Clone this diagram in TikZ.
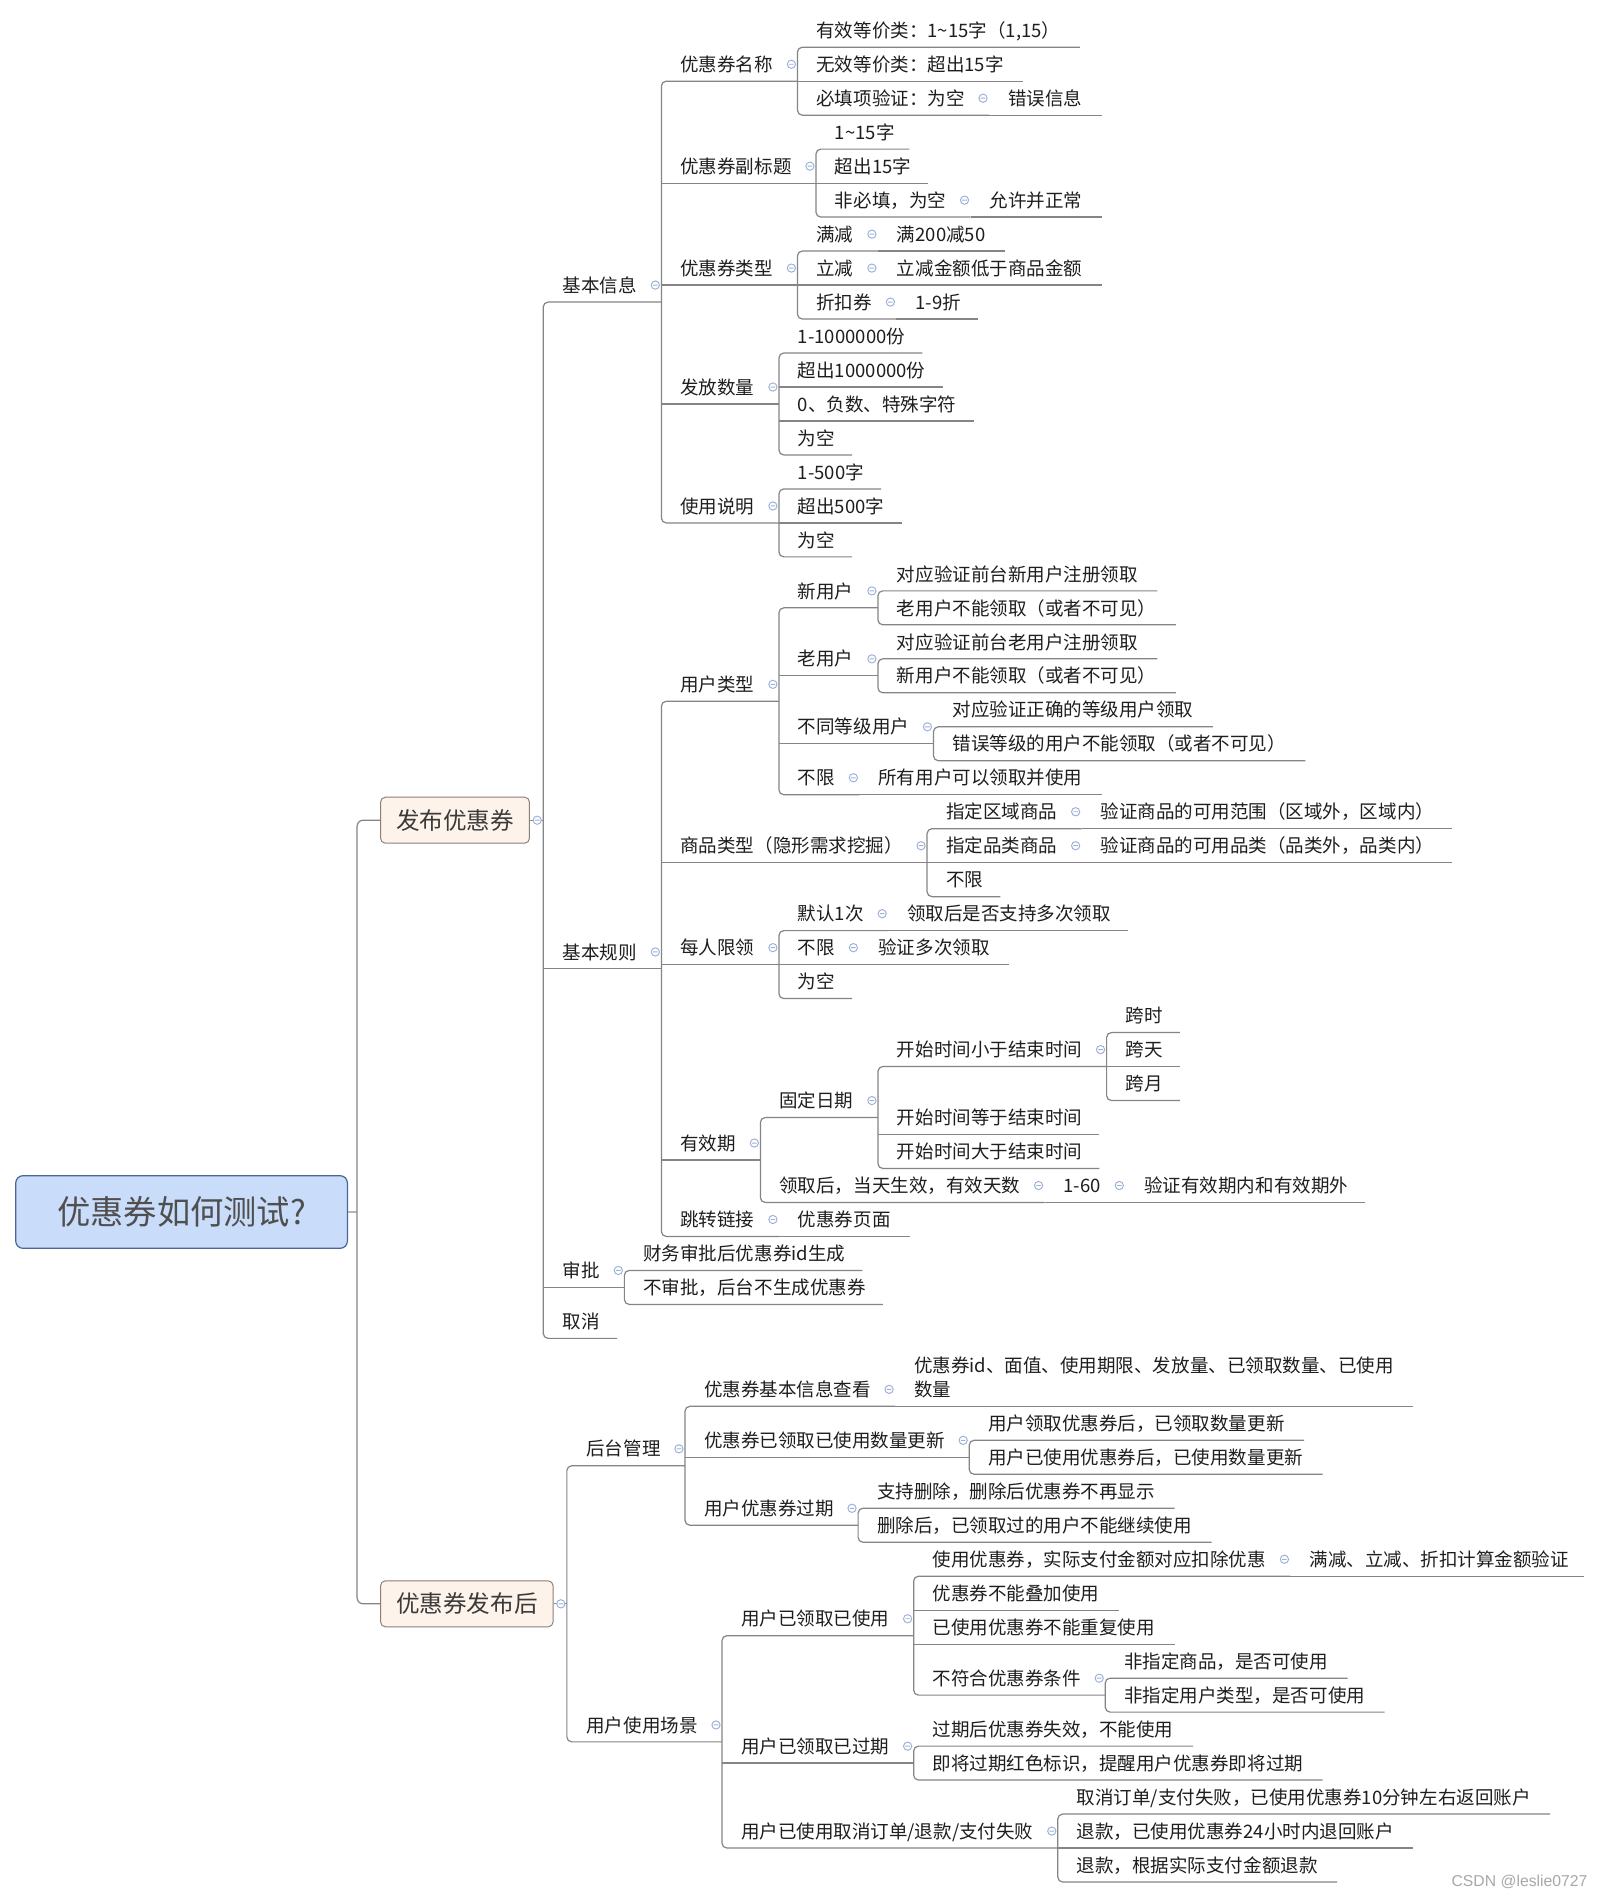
\documentclass[tikz,border=0pt]{standalone}
\usepackage{fontspec}
\setmainfont{Noto Sans CJK SC}
\newfontfamily\wmfont{Liberation Sans}
\newfontfamily\rootfont{Noto Sans CJK SC}
\usetikzlibrary{calc}
\definecolor{lnc}{HTML}{858585}
\definecolor{icc}{HTML}{9DB0D8}
\definecolor{txc}{HTML}{1E1E1E}
\definecolor{rootf}{HTML}{C9DCFA}
\definecolor{rootd}{HTML}{4A6696}
\definecolor{rootc}{HTML}{4F4F4F}
\definecolor{boxf}{HTML}{FEF3EA}
\definecolor{boxd}{HTML}{8C7F76}
\definecolor{boxt}{HTML}{3A3A3A}
\definecolor{wmc}{HTML}{A8A8A8}
\definecolor{rootln}{HTML}{B5B5B5}
\pgfmathdeclarefunction{ry}{1}{\pgfmathparse{-(39+28.07*#1)}}
% text node placed after parent (name, parent, row, text)
\newcommand\tnode[4]{\path let \p1=(#2.east) in node[tp] (#1) at (\x1+35.5pt,{ry(#3)*1pt+14pt}) {#4};}
\newcommand\tfirst[4]{\path let \p1=(#2.east) in node[tp] (#1) at (\x1+27pt,{ry(#3)*1pt+14pt}) {#4};}
% straight underline (node, row, end offset)
\newcommand\tline[3]{\draw[ln] let \p1=(#1.west), \p2=(#1.east) in (\x1-15.5pt,{ry(#2)*1pt}) -- (\x2+#3pt,{ry(#2)*1pt});}
% bracket (parent, first, off, last, off, row first, row last)
\newcommand\tbrack[7]{\draw[ln,rounded corners=4pt] let \p1=(#1.east), \p2=(#2.east), \p3=(#4.east) in (\x2+#3pt,{ry(#6)*1pt}) -- (\x1+20pt,{ry(#6)*1pt}) -- (\x1+20pt,{ry(#7)*1pt}) -- (\x3+#5pt,{ry(#7)*1pt});}
% collapse icon (node, row)
\newcommand\ticon[2]{\draw[icn] let \p1=(#1.east) in (\x1+15pt,{ry(#2)*1pt+14pt}) circle[radius=3.4pt] (\x1+13.1pt,{ry(#2)*1pt+14pt}) -- (\x1+16.9pt,{ry(#2)*1pt+14pt});}
\newcommand\boxicon[1]{\draw[icn,fill=white] let \p1=(#1.east) in (\x1+6pt,\y1) circle[radius=3.4pt] (\x1+4.1pt,\y1) -- (\x1+7.9pt,\y1);}
\tikzset{
  tp/.style={anchor=west, inner xsep=0pt, inner ysep=0pt, text height=11.8pt, text depth=0pt,
    font=\fontsize{15.3}{20}\selectfont, text=txc},
  ln/.style={draw=lnc, line width=1pt},
  icn/.style={draw=icc, line width=0.8pt},
  rootst/.style={draw=rootd, fill=rootf, rounded corners=6pt, line width=1pt, minimum width=274pt,
    minimum height=60pt, font=\rootfont\fontsize{27.5}{30}\selectfont, text=rootc},
  bxst/.style={draw=boxd, fill=boxf, rounded corners=4pt, line width=0.8pt, inner xsep=12.75pt,
    minimum height=38pt, font=\fontsize{19.5}{22}\selectfont, text=boxt, anchor=west}
}
\begin{document}
\begin{tikzpicture}[x=1pt,y=1pt]
\fill[white] (0,0) rectangle (1325,-1568);
\useasboundingbox (0,0) rectangle (1325,-1568);

% root and main boxes
\node[rootst] (root) at (150,{ry(34.28125)}) {优惠券如何测试?};
\node[bxst] (b1) at (314,{ry(22.75)}) {发布优惠券};
\node[bxst] (b2) at (314,{ry(45.8125)}) {优惠券发布后};

% ---------- 发布优惠券 ----------
\tfirst{jbxx}{b1}{7.5}{基本信息}
\tfirst{jbgz}{b1}{27.125}{基本规则}
\tfirst{shp}{b1}{36.5}{审批}
\tfirst{qx}{b1}{38}{取消}

\tnode{mc}{jbxx}{1}{优惠券名称}
\tnode{fbt}{jbxx}{4}{优惠券副标题}
\tnode{lx}{jbxx}{7}{优惠券类型}
\tnode{fs}{jbxx}{10.5}{发放数量}
\tnode{sm}{jbxx}{14}{使用说明}

\tnode{mc1}{mc}{0}{有效等价类：1\textasciitilde15字（1,15）}
\tnode{mc2}{mc}{1}{无效等价类：超出15字}
\tnode{mc3}{mc}{2}{必填项验证：为空}
\tnode{mc3a}{mc3}{2}{错误信息}
\tnode{fbt1}{fbt}{3}{1\textasciitilde15字}
\tnode{fbt2}{fbt}{4}{超出15字}
\tnode{fbt3}{fbt}{5}{非必填，为空}
\tnode{fbt3a}{fbt3}{5}{允许并正常}
\tnode{lx1}{lx}{6}{满减}
\tnode{lx1a}{lx1}{6}{满200减50}
\tnode{lx2}{lx}{7}{立减}
\tnode{lx2a}{lx2}{7}{立减金额低于商品金额}
\tnode{lx3}{lx}{8}{折扣券}
\tnode{lx3a}{lx3}{8}{1-9折}
\tnode{fs1}{fs}{9}{1-1000000份}
\tnode{fs2}{fs}{10}{超出1000000份}
\tnode{fs3}{fs}{11}{0、负数、特殊字符}
\tnode{fs4}{fs}{12}{为空}
\tnode{sm1}{sm}{13}{1-500字}
\tnode{sm2}{sm}{14}{超出500字}
\tnode{sm3}{sm}{15}{为空}

\tnode{yhlx}{jbgz}{19.25}{用户类型}
\tnode{splx}{jbgz}{24}{商品类型（隐形需求挖掘）}
\tnode{mrxl}{jbgz}{27}{每人限领}
\tnode{yxq}{jbgz}{32.75}{有效期}
\tnode{tzlj}{jbgz}{35}{跳转链接}
\tnode{tzlj1}{tzlj}{35}{优惠券页面}

\tnode{xyh}{yhlx}{16.5}{新用户}
\tnode{xyh1}{xyh}{16}{对应验证前台新用户注册领取}
\tnode{xyh2}{xyh}{17}{老用户不能领取（或者不可见）}
\tnode{lyh}{yhlx}{18.5}{老用户}
\tnode{lyh1}{lyh}{18}{对应验证前台老用户注册领取}
\tnode{lyh2}{lyh}{19}{新用户不能领取（或者不可见）}
\tnode{bt}{yhlx}{20.5}{不同等级用户}
\tnode{bt1}{bt}{20}{对应验证正确的等级用户领取}
\tnode{bt2}{bt}{21}{错误等级的用户不能领取（或者不可见）}
\tnode{bx}{yhlx}{22}{不限}
\tnode{bx1}{bx}{22}{所有用户可以领取并使用}

\tnode{qy}{splx}{23}{指定区域商品}
\tnode{qy1}{qy}{23}{验证商品的可用范围（区域外，区域内）}
\tnode{pl}{splx}{24}{指定品类商品}
\tnode{pl1}{pl}{24}{验证商品的可用品类（品类外，品类内）}
\tnode{sp3}{splx}{25}{不限}

\tnode{mr1}{mrxl}{26}{默认1次}
\tnode{mr1a}{mr1}{26}{领取后是否支持多次领取}
\tnode{mr2}{mrxl}{27}{不限}
\tnode{mr2a}{mr2}{27}{验证多次领取}
\tnode{mr3}{mrxl}{28}{为空}

\tnode{gd}{yxq}{31.5}{固定日期}
\tnode{ks1}{gd}{30}{开始时间小于结束时间}
\tnode{ks1a}{ks1}{29}{跨时}
\tnode{ks1b}{ks1}{30}{跨天}
\tnode{ks1c}{ks1}{31}{跨月}
\tnode{ks2}{gd}{32}{开始时间等于结束时间}
\tnode{ks3}{gd}{33}{开始时间大于结束时间}
\tnode{lq}{yxq}{34}{领取后，当天生效，有效天数}
\tnode{lq1}{lq}{34}{1-60}
\tnode{lq2}{lq1}{34}{验证有效期内和有效期外}

\tnode{shp1}{shp}{36}{财务审批后优惠券id生成}
\tnode{shp2}{shp}{37}{不审批，后台不生成优惠券}

% ---------- 优惠券发布后 ----------
\tfirst{ht}{b2}{41.75}{后台管理}
\tfirst{cj}{b2}{49.875}{用户使用场景}

\tnode{ck}{ht}{40}{优惠券基本信息查看}
\path let \p1=(ck.east) in node[tp] (ck1) at (\x1+35.5pt,{ry(40)*1pt+34pt}) {优惠券id、面值、使用期限、发放量、已领取数量、已使用};
\path let \p1=(ck1.west) in node[tp] (ck1b) at (\x1,{ry(40)*1pt+14pt}) {数量};
\tnode{gx}{ht}{41.5}{优惠券已领取已使用数量更新}
\tnode{gx1}{gx}{41}{用户领取优惠券后，已领取数量更新}
\tnode{gx2}{gx}{42}{用户已使用优惠券后，已使用数量更新}
\tnode{gq}{ht}{43.5}{用户优惠券过期}
\tnode{gq1}{gq}{43}{支持删除，删除后优惠券不再显示}
\tnode{gq2}{gq}{44}{删除后，已领取过的用户不能继续使用}

\tnode{sy}{cj}{46.75}{用户已领取已使用}
\tnode{sy1}{sy}{45}{使用优惠券，实际支付金额对应扣除优惠}
\tnode{sy1a}{sy1}{45}{满减、立减、折扣计算金额验证}
\tnode{sy2}{sy}{46}{优惠券不能叠加使用}
\tnode{sy3}{sy}{47}{已使用优惠券不能重复使用}
\tnode{sy4}{sy}{48.5}{不符合优惠券条件}
\tnode{sy4a}{sy4}{48}{非指定商品，是否可使用}
\tnode{sy4b}{sy4}{49}{非指定用户类型，是否可使用}
\tnode{gqq}{cj}{50.5}{用户已领取已过期}
\tnode{gqq1}{gqq}{50}{过期后优惠券失效，不能使用}
\tnode{gqq2}{gqq}{51}{即将过期红色标识，提醒用户优惠券即将过期}
\tnode{qxd}{cj}{53}{用户已使用取消订单/退款/支付失败}
\tnode{qxd1}{qxd}{52}{取消订单/支付失败，已使用优惠券10分钟左右返回账户}
\tnode{qxd2}{qxd}{53}{退款，已使用优惠券24小时内退回账户}
\tnode{qxd3}{qxd}{54}{退款，根据实际支付金额退款}

% ---------- connectors ----------
\draw[draw=rootln, line width=1.6pt] (root.east) -- (295,{ry(34.28125)});
\draw[ln,rounded corners=5pt] (b1.west) -- (295,{ry(22.75)}) -- (295,{ry(45.8125)}) -- (b2.west);

\draw[ln,rounded corners=4pt] let \p1=(b1.east), \p2=(jbxx.east), \p3=(qx.east) in
  (\x2+20pt,{ry(7.5)*1pt}) -- (\x1+11pt,{ry(7.5)*1pt}) -- (\x1+11pt,{ry(38)*1pt}) -- (\x3+14pt,{ry(38)*1pt});
\draw[ln] let \p1=(b1.east) in (b1.east) -- (\x1+11pt,\y1);
\draw[ln,rounded corners=4pt] let \p1=(b2.east), \p2=(ht.east), \p3=(cj.east) in
  (\x2+20pt,{ry(41.75)*1pt}) -- (\x1+11pt,{ry(41.75)*1pt}) -- (\x1+11pt,{ry(49.875)*1pt}) -- (\x3+20pt,{ry(49.875)*1pt});
\draw[ln] let \p1=(b2.east) in (b2.east) -- (\x1+11pt,\y1);

\tbrack{mc}{mc1}{16}{mc3}{20}{0}{2}
\tbrack{fbt}{fbt1}{12}{fbt3}{20}{3}{5}
\tbrack{lx}{lx1}{20}{lx3}{20}{6}{8}
\tbrack{fs}{fs1}{14}{fs4}{14}{9}{12}
\tbrack{sm}{sm1}{14}{sm3}{14}{13}{15}
\tbrack{jbxx}{mc}{20}{sm}{20}{1}{14}
\tbrack{xyh}{xyh1}{16}{xyh2}{16}{16}{17}
\tbrack{lyh}{lyh1}{16}{lyh2}{16}{18}{19}
\tbrack{bt}{bt1}{16}{bt2}{16}{20}{21}
\tbrack{yhlx}{xyh}{20}{bx}{20}{16.5}{22}
\tbrack{splx}{qy}{20}{sp3}{14}{23}{25}
\tbrack{mrxl}{mr1}{20}{mr3}{14}{26}{28}
\tbrack{ks1}{ks1a}{14}{ks1c}{14}{29}{31}
\tbrack{gd}{ks1}{20}{ks3}{14}{30}{33}
\tbrack{yxq}{gd}{20}{lq}{20}{31.5}{34}
\tbrack{jbgz}{yhlx}{20}{tzlj}{20}{19.25}{35}
\tbrack{shp}{shp1}{14}{shp2}{14}{36}{37}
\tbrack{gx}{gx1}{16}{gx2}{16}{41}{42}
\tbrack{gq}{gq1}{16}{gq2}{16}{43}{44}
\tbrack{ht}{ck}{20}{gq}{20}{40}{43.5}
\tbrack{sy4}{sy4a}{16}{sy4b}{16}{48}{49}
\tbrack{sy}{sy1}{20}{sy4}{20}{45}{48.5}
\tbrack{gqq}{gqq1}{16}{gqq2}{16}{50}{51}
\tbrack{qxd}{qxd1}{16}{qxd3}{16}{52}{54}
\tbrack{cj}{sy}{20}{qxd}{20}{46.75}{53}

\tline{mc2}{1}{16}
\tline{mc3a}{2}{16}
\tline{fbt2}{4}{14}
\tline{fbt3a}{5}{16}
\tline{lx1a}{6}{16}
\tline{lx2}{7}{20}
\tline{lx2a}{7}{16}
\tline{lx3a}{8}{14}
\tline{fs2}{10}{14}
\tline{fs3}{11}{14}
\tline{sm2}{14}{14}
\tline{fbt}{4}{20}
\tline{lx}{7}{20}
\tline{fs}{10.5}{20}
\tline{bx1}{22}{16}
\tline{lyh}{18.5}{20}
\tline{bt}{20.5}{20}
\tline{qy1}{23}{15}
\tline{pl}{24}{20}
\tline{pl1}{24}{15}
\tline{mr1a}{26}{14}
\tline{mr2}{27}{20}
\tline{mr2a}{27}{16}
\tline{ks1b}{30}{14}
\tline{ks2}{32}{14}
\tline{lq1}{34}{20}
\tline{lq2}{34}{14}
\tline{tzlj1}{35}{16}
\tline{splx}{24}{20}
\tline{mrxl}{27}{20}
\tline{yxq}{32.75}{20}
\tline{jbgz}{27.125}{20}
\tline{shp}{36.5}{20}
\tline{ck1}{40}{16}
\tline{gx}{41.5}{20}
\tline{sy1a}{45}{12}
\tline{sy2}{46}{16}
\tline{sy3}{47}{16}
\tline{gqq}{50.5}{20}
\tline{qxd2}{53}{16}

% ---------- collapse icons ----------
\boxicon{b1}
\boxicon{b2}
\ticon{jbxx}{7.5}
\ticon{jbgz}{27.125}
\ticon{shp}{36.5}
\ticon{mc}{1}
\ticon{mc3}{2}
\ticon{fbt}{4}
\ticon{fbt3}{5}
\ticon{lx}{7}
\ticon{lx1}{6}
\ticon{lx2}{7}
\ticon{lx3}{8}
\ticon{fs}{10.5}
\ticon{sm}{14}
\ticon{yhlx}{19.25}
\ticon{xyh}{16.5}
\ticon{lyh}{18.5}
\ticon{bt}{20.5}
\ticon{bx}{22}
\ticon{splx}{24}
\ticon{qy}{23}
\ticon{pl}{24}
\ticon{mrxl}{27}
\ticon{mr1}{26}
\ticon{mr2}{27}
\ticon{yxq}{32.75}
\ticon{gd}{31.5}
\ticon{ks1}{30}
\ticon{lq}{34}
\ticon{lq1}{34}
\ticon{tzlj}{35}
\ticon{ht}{41.75}
\ticon{ck}{40}
\ticon{gx}{41.5}
\ticon{gq}{43.5}
\ticon{cj}{49.875}
\ticon{sy}{46.75}
\ticon{sy1}{45}
\ticon{sy4}{48.5}
\ticon{gqq}{50.5}
\ticon{qxd}{53}

% watermark
\node[anchor=west, inner sep=0pt, font=\wmfont\fontsize{13}{15}\selectfont, text=wmc] (wm) at (1199,-1555) {CSDN @leslie0727};
\end{tikzpicture}
\end{document}
